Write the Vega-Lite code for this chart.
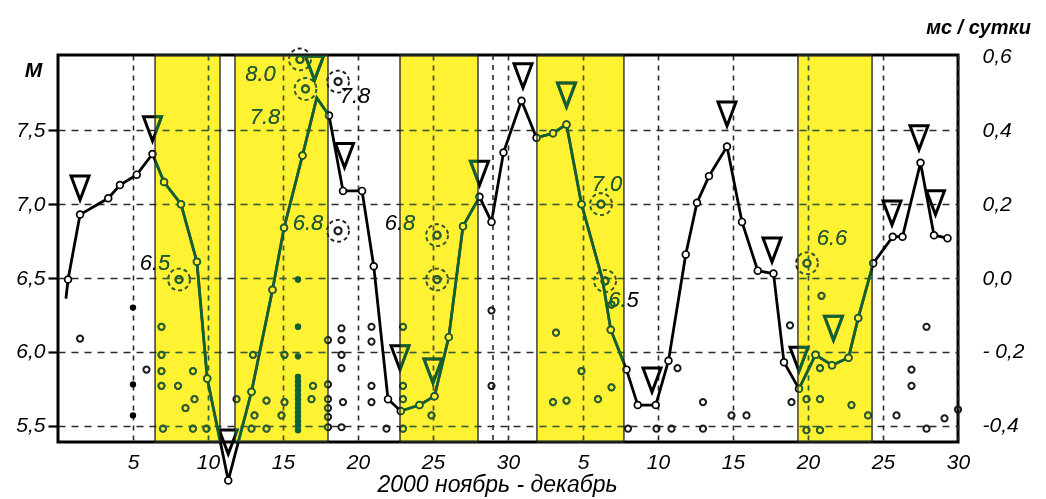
{
  "$schema": "https://vega.github.io/schema/vega-lite/v6.json",
  "width": 900,
  "height": 387,
  "autosize": {"type": "none"},
  "padding": {"left": 58, "top": 55, "right": 88, "bottom": 57},
  "background": "white",
  "config": {
    "view": {"stroke": "black", "strokeWidth": 3, "fill": "white"},
    "font": "Liberation Sans"
  },
  "datasets": {
    "line": [
      {"d":0.53,"m":6.36,"mk":0},{"d":0.67,"m":6.49,"mk":1},{"d":1.47,"m":6.93,"mk":1},{"d":3.35,"m":7.04,"mk":1},
      {"d":4.13,"m":7.13,"mk":1},{"d":5.25,"m":7.20,"mk":1},{"d":6.3,"m":7.34,"mk":1},{"d":7.07,"m":7.15,"mk":1},
      {"d":8.2,"m":7.0,"mk":1},{"d":9.26,"m":6.61,"mk":1},{"d":9.95,"m":5.82,"mk":1},{"d":11.35,"m":5.13,"mk":1},
      {"d":12.9,"m":5.73,"mk":1},{"d":14.3,"m":6.42,"mk":1},{"d":15.07,"m":6.84,"mk":1},{"d":16.3,"m":7.33,"mk":1},
      {"d":17.25,"m":7.72,"mk":0},{"d":18.07,"m":7.60,"mk":1},{"d":19.0,"m":7.09,"mk":1},{"d":20.27,"m":7.09,"mk":1},
      {"d":21.05,"m":6.58,"mk":1},{"d":22.0,"m":5.68,"mk":1},{"d":22.85,"m":5.60,"mk":1},{"d":24.1,"m":5.64,"mk":1},
      {"d":25.1,"m":5.70,"mk":1},{"d":26.05,"m":6.10,"mk":1},{"d":27.0,"m":6.85,"mk":1},{"d":28.1,"m":7.05,"mk":1},
      {"d":28.9,"m":6.88,"mk":1},{"d":29.7,"m":7.35,"mk":1},{"d":30.9,"m":7.70,"mk":1},{"d":31.9,"m":7.45,"mk":1},
      {"d":33.0,"m":7.48,"mk":1},{"d":33.9,"m":7.54,"mk":1},{"d":34.9,"m":7.0,"mk":1},{"d":36.3,"m":6.49,"mk":0},
      {"d":36.85,"m":6.15,"mk":1},{"d":37.9,"m":5.88,"mk":1},{"d":38.65,"m":5.64,"mk":1},{"d":39.85,"m":5.64,"mk":1},
      {"d":40.7,"m":5.94,"mk":1},{"d":41.85,"m":6.66,"mk":1},{"d":42.6,"m":7.01,"mk":1},{"d":43.4,"m":7.19,"mk":1},
      {"d":44.6,"m":7.39,"mk":1},{"d":45.6,"m":6.88,"mk":1},{"d":46.65,"m":6.55,"mk":1},{"d":47.7,"m":6.53,"mk":1},
      {"d":48.4,"m":5.93,"mk":1},{"d":49.4,"m":5.75,"mk":1},{"d":50.5,"m":5.98,"mk":1},{"d":51.6,"m":5.91,"mk":1},
      {"d":52.7,"m":5.96,"mk":1},{"d":53.35,"m":6.23,"mk":1},{"d":54.35,"m":6.60,"mk":1},{"d":55.65,"m":6.78,"mk":1},
      {"d":56.3,"m":6.78,"mk":1},{"d":57.5,"m":7.28,"mk":1},{"d":58.4,"m":6.79,"mk":1},{"d":59.3,"m":6.77,"mk":1}
    ],
    "scatter": [
      {"d":1.47,"m":6.09},{"d":5.9,"m":5.88},
      {"d":6.9,"m":6.17},{"d":6.9,"m":5.98},{"d":6.9,"m":5.87},{"d":6.9,"m":5.77},{"d":8.0,"m":5.77},{"d":9.0,"m":5.87},
      {"d":9.1,"m":5.68},{"d":8.5,"m":5.62},{"d":7.0,"m":5.48},{"d":9.0,"m":5.48},{"d":9.9,"m":5.48},
      {"d":11.9,"m":5.68},{"d":12.9,"m":5.48},{"d":13.1,"m":5.57},{"d":13.9,"m":5.67},{"d":13.9,"m":5.48},{"d":13.0,"m":5.98},
      {"d":15.1,"m":5.98},{"d":15.1,"m":5.66},{"d":14.9,"m":5.57},{"d":17.0,"m":5.77},{"d":16.9,"m":5.68},{"d":18.0,"m":6.08},
      {"d":18.0,"m":5.78},{"d":18.0,"m":5.68},{"d":18.0,"m":5.62},{"d":18.0,"m":5.56},{"d":18.0,"m":5.49},
      {"d":18.9,"m":6.16},{"d":18.9,"m":6.08},{"d":18.9,"m":5.98},{"d":18.9,"m":5.89},{"d":19.0,"m":5.66},{"d":18.9,"m":5.49},
      {"d":20.9,"m":6.17},{"d":20.9,"m":6.07},{"d":20.9,"m":5.77},{"d":20.9,"m":5.66},{"d":21.9,"m":5.48},
      {"d":23.0,"m":6.17},{"d":23.0,"m":5.77},{"d":23.0,"m":5.68},{"d":23.0,"m":5.48},{"d":24.9,"m":5.57},
      {"d":28.9,"m":6.28},{"d":28.9,"m":5.77},
      {"d":33.2,"m":6.13},{"d":34.9,"m":5.87},{"d":36.9,"m":5.76},{"d":33.0,"m":5.66},{"d":33.9,"m":5.67},{"d":36.0,"m":5.68},{"d":36.9,"m":6.32},
      {"d":38.0,"m":5.48},{"d":39.9,"m":5.48},{"d":40.9,"m":5.48},{"d":41.3,"m":5.89},{"d":43.0,"m":5.66},{"d":43.0,"m":5.48},
      {"d":44.9,"m":5.57},{"d":45.9,"m":5.57},{"d":48.8,"m":6.18},{"d":48.9,"m":5.66},
      {"d":49.9,"m":5.68},{"d":50.8,"m":5.89},{"d":50.8,"m":5.68},{"d":50.9,"m":6.38},{"d":52.9,"m":5.64},{"d":54.0,"m":5.57},
      {"d":49.9,"m":5.47},{"d":50.8,"m":5.47},
      {"d":57.9,"m":6.17},{"d":56.9,"m":5.88},{"d":56.9,"m":5.77},{"d":55.9,"m":5.57},{"d":57.9,"m":5.48},{"d":59.1,"m":5.55},{"d":60.0,"m":5.61}
    ],
    "filled": [
      {"d":5,"m":6.30},{"d":5,"m":5.78},{"d":5,"m":5.57},
      {"d":16,"m":6.49},{"d":16,"m":6.17},{"d":16,"m":5.97},
      {"d":16,"m":5.47},{"d":16,"m":5.50},{"d":16,"m":5.53},{"d":16,"m":5.56},{"d":16,"m":5.59},{"d":16,"m":5.62},{"d":16,"m":5.65},
      {"d":16,"m":5.68},{"d":16,"m":5.71},{"d":16,"m":5.74},{"d":16,"m":5.77},{"d":16,"m":5.80},{"d":16,"m":5.83}
    ],
    "rings": [
      {"d":8.07,"m":6.49},{"d":16.13,"m":7.98},{"d":16.5,"m":7.78},{"d":18.67,"m":7.83},{"d":18.67,"m":6.82},
      {"d":25.27,"m":6.79},{"d":25.27,"m":6.49},{"d":36.2,"m":7.0},{"d":36.47,"m":6.48},{"d":49.93,"m":6.60}
    ],
    "tri": [
      {"d":1.47,"m":7.11},{"d":6.3,"m":7.51},{"d":11.35,"m":5.39},{"d":17.1,"m":7.92},{"d":19.1,"m":7.33},
      {"d":22.8,"m":5.96},{"d":25.0,"m":5.87},{"d":28.1,"m":7.21},{"d":31.0,"m":7.87},{"d":33.9,"m":7.74},
      {"d":39.6,"m":5.81},{"d":44.6,"m":7.61},{"d":47.6,"m":6.69},{"d":49.4,"m":5.95},{"d":51.7,"m":6.16},
      {"d":55.6,"m":6.94},{"d":57.4,"m":7.45},{"d":58.5,"m":7.01}
    ],
    "labels": [
      {"d":13.5,"m":7.88,"t":"8.0"},{"d":13.8,"m":7.59,"t":"7.8"},{"d":19.8,"m":7.73,"t":"7.8"},
      {"d":16.67,"m":6.87,"t":"6.8"},{"d":22.8,"m":6.87,"t":"6.8"},{"d":36.6,"m":7.14,"t":"7.0"},
      {"d":51.6,"m":6.77,"t":"6.6"},{"d":37.7,"m":6.35,"t":"6.5"},{"d":6.47,"m":6.60,"t":"6.5"}
    ],
    "bands": [
      {"d1":6.47,"d2":10.8},{"d1":11.8,"d2":18.0},{"d1":22.8,"d2":28.0},{"d1":31.93,"d2":37.73},{"d1":49.33,"d2":54.27}
    ],
    "extra": [{"d":29}],
    "right": [{"r":-0.4},{"r":0.6}]
  },
  "layer": [
    {
      "layer": [
        {
          "data": {"name": "line"},
          "mark": {"type": "line", "color": "black", "strokeWidth": 2.8},
          "encoding": {
            "x": {
              "field": "d", "type": "quantitative",
              "scale": {"domain": [0, 60], "nice": false, "zero": false},
              "axis": {
                "values": [5, 10, 15, 20, 25, 30, 35, 40, 45, 50, 55, 60],
                "labelExpr": "datum.value > 30 ? '' + (datum.value - 30) : '' + datum.value",
                "title": "2000 ноябрь - декабрь",
                "grid": true, "gridDash": [5, 5], "gridColor": "#2a2a2a", "gridWidth": 1.6, "gridOpacity": 1,
                "ticks": false, "domain": false,
                "labelFontSize": 21, "labelFontStyle": "italic", "labelColor": "black", "labelPadding": 9,
                "labelOverlap": false, "labelFlush": false, "labelBound": false,
                "titleFontSize": 23, "titleFontStyle": "italic", "titleFontWeight": "normal", "titleColor": "black",
                "titlePadding": 1, "titleX": 439
              }
            },
            "y": {
              "field": "m", "type": "quantitative",
              "scale": {"domain": [5.39, 8.01], "nice": false, "zero": false},
              "axis": {
                "values": [5.5, 6, 6.5, 7, 7.5],
                "labelExpr": "replace(format(datum.value, '.1f'), '.', ',')",
                "grid": true, "gridDash": [7, 6], "gridColor": "#2a2a2a", "gridWidth": 1.6, "gridOpacity": 1,
                "ticks": true, "tickSize": 10, "tickWidth": 2.2, "tickColor": "black", "domain": false,
                "labelFontSize": 21, "labelFontStyle": "italic", "labelColor": "black", "labelPadding": 3,
                "labelOverlap": false, "labelFlush": false, "labelBound": false,
                "title": "М", "titleAngle": 0, "titleX": -25, "titleY": 15, "titleAlign": "center", "titleBaseline": "middle",
                "titleFontSize": 21, "titleFontWeight": "bold", "titleFontStyle": "italic", "titleColor": "black"
              }
            }
          }
        },
        {
          "data": {"name": "extra"},
          "mark": {"type": "rule", "color": "#2a2a2a", "strokeWidth": 1.6, "strokeDash": [5, 5]},
          "encoding": {
            "x": {"field": "d", "type": "quantitative", "scale": {"domain": [0, 60], "nice": false, "zero": false}}
          }
        },
        {
          "data": {"name": "line"},
          "transform": [{"filter": "datum.mk == 1"}],
          "mark": {"type": "point", "shape": "circle", "filled": false, "fill": "white", "fillOpacity": 1, "stroke": "black", "strokeWidth": 1.7, "size": 46, "opacity": 1},
          "encoding": {
            "x": {"field": "d", "type": "quantitative", "scale": {"domain": [0, 60], "nice": false, "zero": false}},
            "y": {"field": "m", "type": "quantitative", "scale": {"domain": [5.39, 8.01], "nice": false, "zero": false}}
          }
        },
        {
          "data": {"name": "scatter"},
          "mark": {"type": "point", "shape": "circle", "filled": false, "stroke": "#1a1a1a", "strokeWidth": 2, "size": 38, "opacity": 1},
          "encoding": {
            "x": {"field": "d", "type": "quantitative", "scale": {"domain": [0, 60], "nice": false, "zero": false}},
            "y": {"field": "m", "type": "quantitative", "scale": {"domain": [5.39, 8.01], "nice": false, "zero": false}}
          }
        },
        {
          "data": {"name": "filled"},
          "mark": {"type": "point", "shape": "circle", "filled": true, "color": "black", "size": 40, "opacity": 1},
          "encoding": {
            "x": {"field": "d", "type": "quantitative", "scale": {"domain": [0, 60], "nice": false, "zero": false}},
            "y": {"field": "m", "type": "quantitative", "scale": {"domain": [5.39, 8.01], "nice": false, "zero": false}}
          }
        },
        {
          "data": {"name": "rings"},
          "mark": {"type": "point", "shape": "circle", "filled": false, "stroke": "#1a1a1a", "strokeWidth": 1.8, "strokeDash": [4, 3], "size": 480, "opacity": 1},
          "encoding": {
            "x": {"field": "d", "type": "quantitative", "scale": {"domain": [0, 60], "nice": false, "zero": false}},
            "y": {"field": "m", "type": "quantitative", "scale": {"domain": [5.39, 8.01], "nice": false, "zero": false}}
          }
        },
        {
          "data": {"name": "rings"},
          "mark": {"type": "point", "shape": "circle", "filled": false, "stroke": "#1a1a1a", "strokeWidth": 2.2, "size": 50, "opacity": 1},
          "encoding": {
            "x": {"field": "d", "type": "quantitative", "scale": {"domain": [0, 60], "nice": false, "zero": false}},
            "y": {"field": "m", "type": "quantitative", "scale": {"domain": [5.39, 8.01], "nice": false, "zero": false}}
          }
        },
        {
          "data": {"name": "tri"},
          "mark": {"type": "point", "shape": "M-0.75,-1L0.75,-1L0,1Z", "filled": false, "stroke": "black", "strokeWidth": 3, "size": 576, "opacity": 1},
          "encoding": {
            "x": {"field": "d", "type": "quantitative", "scale": {"domain": [0, 60], "nice": false, "zero": false}},
            "y": {"field": "m", "type": "quantitative", "scale": {"domain": [5.39, 8.01], "nice": false, "zero": false}}
          }
        },
        {
          "data": {"name": "labels"},
          "mark": {"type": "text", "font": "Liberation Sans", "fontSize": 22, "fontStyle": "italic", "color": "black", "align": "center", "baseline": "middle"},
          "encoding": {
            "x": {"field": "d", "type": "quantitative", "scale": {"domain": [0, 60], "nice": false, "zero": false}},
            "y": {"field": "m", "type": "quantitative", "scale": {"domain": [5.39, 8.01], "nice": false, "zero": false}},
            "text": {"field": "t", "type": "nominal"}
          }
        },
        {
          "data": {"name": "bands"},
          "mark": {"type": "rect", "color": "#fff200", "blend": "multiply", "opacity": 1},
          "encoding": {
            "x": {"field": "d1", "type": "quantitative", "scale": {"domain": [0, 60], "nice": false, "zero": false}},
            "x2": {"field": "d2"}
          }
        },
        {
          "data": {"name": "bands"},
          "mark": {"type": "rect", "color": "#0a6432", "blend": "lighten", "opacity": 1},
          "encoding": {
            "x": {"field": "d1", "type": "quantitative", "scale": {"domain": [0, 60], "nice": false, "zero": false}},
            "x2": {"field": "d2"}
          }
        },
        {
          "data": {"name": "bands"},
          "mark": {"type": "rect", "fillOpacity": 0, "stroke": "#1e1e1e", "strokeWidth": 1.3},
          "encoding": {
            "x": {"field": "d1", "type": "quantitative", "scale": {"domain": [0, 60], "nice": false, "zero": false}},
            "x2": {"field": "d2"}
          }
        }
      ]
    },
    {
      "data": {"name": "right"},
      "mark": {"type": "point", "opacity": 0},
      "encoding": {
        "y": {
          "field": "r", "type": "quantitative",
          "scale": {"domain": [-0.444, 0.604], "nice": false, "zero": false},
          "axis": {
            "orient": "right",
            "values": [-0.4, -0.2, 0, 0.2, 0.4, 0.6],
            "labelExpr": "datum.value < -0.3 ? '-0,4' : (datum.value < -0.1 ? '- 0,2' : replace(format(datum.value, '.1f'), '.', ','))",
            "grid": false, "ticks": false, "domain": false,
            "labelFontSize": 21, "labelFontStyle": "italic", "labelColor": "black", "labelPadding": 24, "labelAlign": "left",
            "labelOverlap": false, "labelFlush": false, "labelBound": false,
            "title": "мс / сутки", "titleAngle": 0, "titleX": 20, "titleY": -28, "titleAlign": "center", "titleBaseline": "middle",
            "titleFontSize": 20, "titleFontWeight": "bold", "titleFontStyle": "italic", "titleColor": "black"
          }
        }
      }
    }
  ],
  "resolve": {"scale": {"y": "independent"}, "axis": {"y": "independent"}}
}
